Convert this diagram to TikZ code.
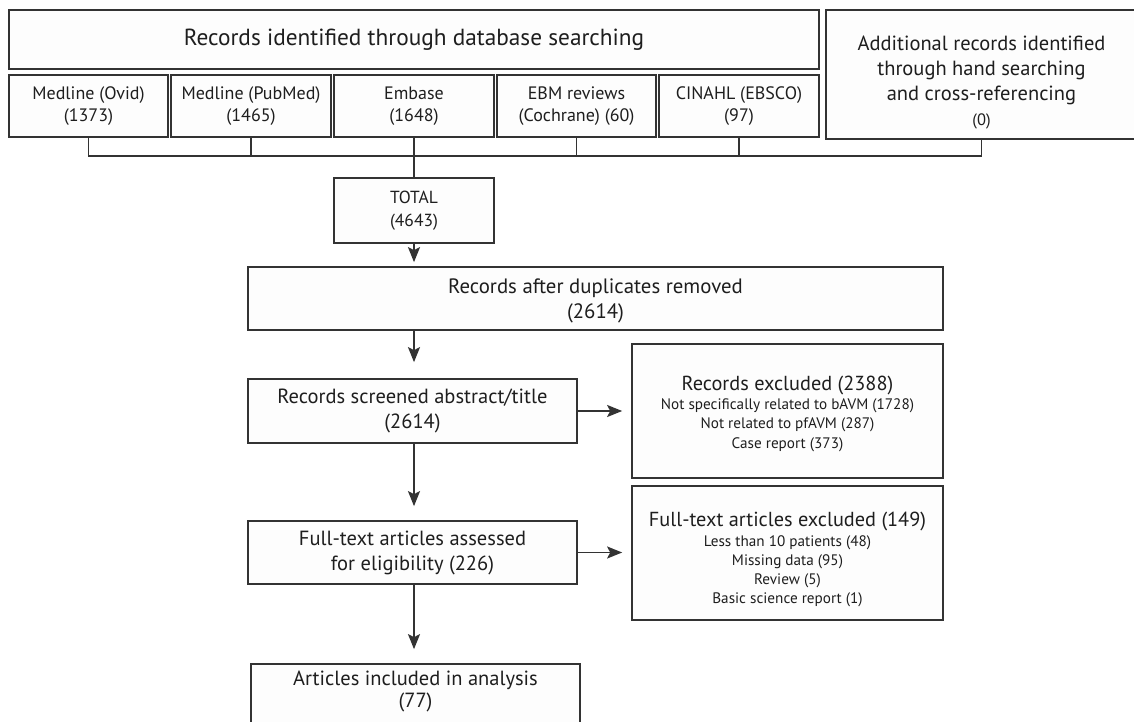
\documentclass[tikz,border=0pt]{standalone}
\usepackage{fontspec}
\setmainfont{PT Sans}
\usetikzlibrary{arrows.meta}
\definecolor{linec}{HTML}{333333}
\definecolor{txtc}{HTML}{1E1E1E}
\definecolor{boxfill}{HTML}{FDFDFD}
\begin{document}
\begin{tikzpicture}[x=1pt,y=-1pt,
  box/.style={draw=linec, line width=1.7pt, fill=boxfill, inner sep=0pt, align=center, text=txtc},
  dbbox/.style={box, minimum width=159pt, minimum height=62pt, font=\fontsize{18}{22}\selectfont},
  mainbox/.style={box, minimum width=329pt, font=\fontsize{20.5}{25}\selectfont},
  exbox/.style={box, minimum width=311pt, minimum height=134pt, font=\fontsize{15.2}{19.3}\selectfont},
  bus/.style={draw=linec, line width=1.7pt},
  arr/.style={draw=linec, line width=1.7pt, -{Stealth[length=15pt,width=12pt,inset=3pt]}}
]
\path[use as bounding box] (0,0) rectangle (1134,722);
\clip (0,0) rectangle (1134,722);

% top row
\node[box, minimum width=810pt, minimum height=59pt, font=\fontsize{23.3}{25}\selectfont] (title) at (414,39.5) {Records identified through database searching};
\node[dbbox] (ovid)   at (88.5,106) {Medline (Ovid)\\(1373)};
\node[dbbox, minimum width=160pt] (pubmed) at (251,106) {Medline (PubMed)\\(1465)};
\node[dbbox, minimum width=160pt] (embase) at (414,106) {Embase\\(1648)};
\node[dbbox] (ebm)    at (576.5,106) {EBM reviews\\(Cochrane) (60)};
\node[dbbox, minimum width=160pt] (cinahl) at (739,106) {CINAHL (EBSCO)\\(97)};
\node[box, minimum width=311pt, minimum height=129pt, font=\fontsize{20.5}{25}\selectfont] (add) at (981.5,74.5)
  {\rule{0pt}{31pt}Additional records identified\\through hand searching\\and cross-referencing\\{\fontsize{16.5}{25}\selectfont (0)}};

% bus
\coordinate (busy) at (0,156);
\draw[bus] (ovid.south) -- (ovid.south |- busy) -| (add.south);
\draw[bus] (pubmed.south) -- (pubmed.south |- busy);
\draw[bus] (ebm.south) -- (ebm.south |- busy);
\draw[bus] (cinahl.south) -- (cinahl.south |- busy);

\node[box, minimum width=160pt, minimum height=65pt, font=\fontsize{17.5}{23}\selectfont] (total) at (414,210.5) {TOTAL\\(4643)};
\draw[bus] (embase.south) -- (total.north);

\node[box, minimum width=695pt, minimum height=63pt, font=\fontsize{20.8}{25}\selectfont] (dup) at (595.5,298.5) {\rule{0pt}{20pt}Records after duplicates removed\\(2614)};
\node[mainbox, minimum height=64pt] (scr) at (412.5,411) {Records screened abstract/title\\(2614)};
\node[exbox] (excl) at (787.5,411)
  {\rule{0pt}{20pt}{\fontsize{20.3}{21}\selectfont Records excluded (2388)}\\Not specifically related to bAVM (1728)\\Not related to pfAVM (287)\\Case report (373)};
\node[mainbox, minimum height=63pt] (ass) at (412.5,552.5) {Full-text articles assessed\\for eligibility (226)};
\node[exbox] (ftex) at (787.5,553)
  {\rule{0pt}{28pt}{\fontsize{20.3}{21}\selectfont Full-text articles excluded (149)}\\Less than 10 patients (48)\\Missing data (95)\\Review (5)\\Basic science report (1)};
\node[mainbox, minimum width=329pt, minimum height=72pt, font=\fontsize{20.5}{22}\selectfont] (art) at (415.5,700) {Articles included in analysis\\(77)\\\mbox{}};

% arrows
\draw[arr, shorten >=4pt] (total.south) -- (dup.north -| total.south);
\draw[arr, shorten >=16pt] (dup.south -| total.south) -- (scr.north -| total.south);
\draw[arr, shorten >=9pt] (scr.east) -- (excl.west |- scr.east);
\draw[arr, shorten >=14pt] (scr.south -| total.south) -- (ass.north -| total.south);
\draw[arr, shorten >=9pt] (ass.east) -- (ftex.west |- ass.east);
\draw[arr, shorten >=14pt] (ass.south -| total.south) -- (art.north -| total.south);
\end{tikzpicture}
\end{document}
